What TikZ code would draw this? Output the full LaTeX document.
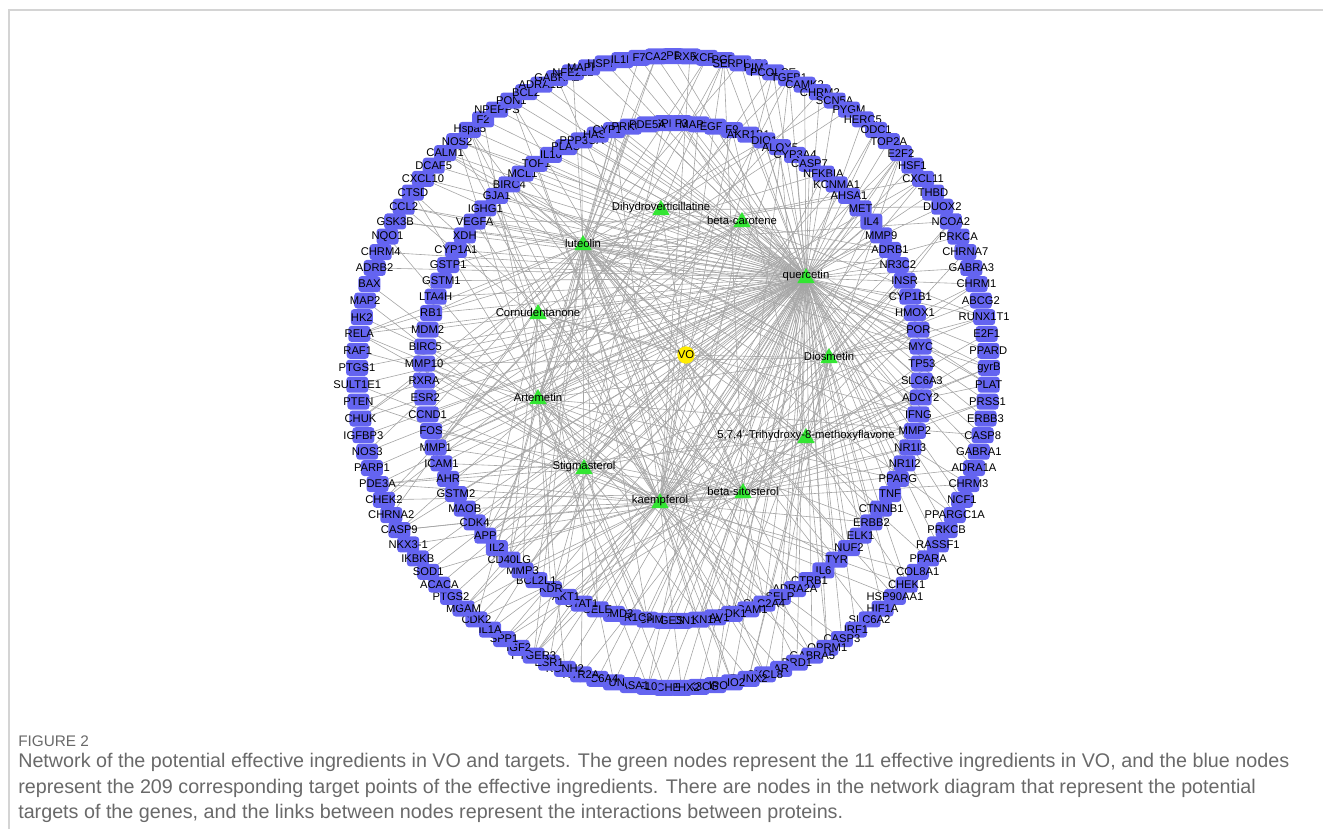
\documentclass[tikz,border=0pt]{standalone}
\usepackage{fontspec}
\setmainfont{Liberation Sans}
\usetikzlibrary{shapes.geometric}
\pgfdeclarelayer{bg}
\pgfsetlayers{bg,main}
\definecolor{tblue}{RGB}{100,100,240}
\definecolor{igreen}{RGB}{51,230,51}
\definecolor{voyellow}{RGB}{255,236,0}
\definecolor{edgegray}{RGB}{165,165,165}
\definecolor{framegray}{RGB}{212,212,212}
\definecolor{capgray}{RGB}{105,105,105}
\newcommand\edgesfor[1]{%
  \gdef\anyhit{0}%
  \foreach \ing/\p in {q/0.68,k/0.30,l/0.28,bs/0.15,st/0.14,di/0.10,ar/0.08,co/0.06,bc/0.07,dh/0.05,th/0.07}{%
    \pgfmathtruncatemacro\hit{rnd<\p}%
    \ifnum\hit=1 \draw[lnk] (#1.center) -- (\ing.center); \gdef\anyhit{1}\fi
  }%
  \ifnum\anyhit=0 \draw[lnk] (#1.center) -- (q.center);\fi
}
\begin{document}
\begin{tikzpicture}[x=0.75pt,y=-0.75pt,
  tnode/.style={rectangle, rounded corners=2.4pt, fill=tblue, draw=none, minimum width=16.5pt, minimum height=12pt, inner sep=0pt},
  tlab/.style={font=\fontsize{8.4}{8.4}\selectfont, text=black, inner sep=0pt},
  ilab/.style={font=\fontsize{8.5}{8.5}\selectfont, text=black, inner sep=0pt, yshift=1.5pt},
  inode/.style={regular polygon, regular polygon sides=3, fill=igreen, draw=none, minimum size=15pt, inner sep=0pt},
  lnk/.style={draw=edgegray, line width=0.45pt},
  capstyle/.style={anchor=base west, inner sep=0pt, text=capgray, font=\fontsize{14.8}{19}\selectfont},
]
\useasboundingbox (0,0) rectangle (1323,829);
\draw[framegray, line width=1.1pt] (9,829) -- (9,10) -- (1323,10);

% outer ring
\foreach \lab [count=\n from 0] in {CPB2,RXRB,XCR1,PGR,SERPINE1,PIM1,PCOLCE,TGFB1,CAMK2,CHRM2,SCN5A,PYGM,HERC5,ODC1,TOP2A,E2F2,HSF1,CXCL11,THBD,DUOX2,NCOA2,PRKCA,CHRNA7,GABRA3,CHRM1,ABCG2,RUNX1T1,E2F1,PPARD,gyrB,PLAT,PRSS1,ERBB3,CASP8,GABRA1,ADRA1A,CHRM3,NCF1,PPARGC1A,PRKCB,RASSF1,PPARA,COL8A1,CHEK1,HSP90AA1,HIF1A,SLC6A2,IRF1,CASP3,OPRM1,GABRA5,DRD1,AR,CXCL8,RUNX2,DIO2,MPO,PIK3CG,EPHX2,ACHE,F10,RASA1,JUN,SLC6A4,HTR2A,KCNH2,ESR1,PTGER3,IGF2,SPP1,IL1A,CDK2,MGAM,PTGS2,ACACA,SOD1,IKBKB,NKX3-1,CASP9,CHRNA2,CHEK2,PDE3A,PARP1,NOS3,IGFBP3,CHUK,PTEN,SULT1E1,PTGS1,RAF1,RELA,HK2,MAP2,BAX,ADRB2,CHRM4,NQO1,GSK3B,CCL2,CTSD,CXCL10,DCAF5,CALM1,NOS2,Hspa5,F2,NPEPPS,PON1,BCL2,ADRA1D,GABRA2,NFE2L2,MAPK14,HSPB1,IL1B,F7,CA2}{
  \pgfmathsetmacro\ang{90-360/117*\n}
  \node[tnode,label={[tlab]center:\lab}] (o\n) at ({673+316*cos(\ang)},{372-316*sin(\ang)}) {};
}
% inner ring
\foreach \lab [count=\n from 0] in {HSPH1,F3,MAPK1,EGFR,F9,AKR1B1,DIO1,ALOX5,CYP3A4,CASP7,NFKBIA,KCNMA1,AHSA1,MET,IL4,MMP9,ADRB1,NR3C2,INSR,CYP1B1,HMOX1,POR,MYC,TP53,SLC6A3,ADCY2,IFNG,MMP2,NR1I3,NR1I2,PPARG,TNF,CTNNB1,ERBB2,ELK1,NUF2,TYR,IL6,CTRB1,ADRA2A,SELP,SLC2A4,VCAM1,PDK1,CAV1,CDKN1A,EDN1,PTGES,ACHM,AKR1C3,PSMD3,SELE,STAT1,AKT1,KDR,BCL2L1,MMP3,CD40LG,IL2,APP,CDK4,MAOB,GSTM2,AHR,ICAM1,MMP1,FOS,CCND1,ESR2,RXRA,MMP10,BIRC5,MDM2,RB1,LTA4H,GSTM1,GSTP1,CYP1A1,XDH,VEGFA,IGHG1,GJA1,BIRC4,MCL1,TOP1,IL10,PLAU,PPP3CA,HAS2,CYP1A2,PRKG1,PDE5A}{
  \pgfmathsetmacro\ang{90-360/92*(\n-0.5)}
  \node[tnode,label={[tlab]center:\lab}] (i\n) at ({673+249*cos(\ang)},{372-249*sin(\ang)}) {};
}
% ingredients
\node[inode,label={[ilab]center:quercetin}] (q) at (806,278) {};
\node[inode,label={[ilab]center:kaempferol}] (k) at (660,503) {};
\node[inode,label={[ilab]center:luteolin}] (l) at (583,245) {};
\node[inode,label={[ilab]center:beta-sitosterol}] (bs) at (743,493) {};
\node[inode,label={[ilab]center:Stigmasterol}] (st) at (584,469) {};
\node[inode,label={[ilab]center:Diosmetin}] (di) at (829,358) {};
\node[inode,label={[ilab]center:Artemetin}] (ar) at (538,399) {};
\node[inode,label={[ilab]center:Cornudentanone}] (co) at (538,314) {};
\node[inode,label={[ilab]center:beta-carotene}] (bc) at (742,222) {};
\node[inode,label={[ilab]center:Dihydroverticillatine}] (dh) at (661,210) {};
\node[inode,label={[ilab]center:5,7,4'-Trihydroxy-8-methoxyflavone}] (th) at (806,438) {};
\node[circle, fill=voyellow, draw=none, minimum size=13pt, inner sep=0pt, label={[ilab,yshift=-1.5pt]center:VO}] (vo) at (686,355) {};

% edges
\begin{pgfonlayer}{bg}
\pgfmathsetseed{20231}
\foreach \ing in {q,k,l,bs,st,di,ar,co,bc,dh,th}{\draw[lnk] (vo.center) -- (\ing.center);}
\foreach \n in {0,...,116}{\edgesfor{o\n}}
\foreach \n in {0,...,91}{\edgesfor{i\n}}
\end{pgfonlayer}

% caption
\node[capstyle, font=\fontsize{11.5}{12}\selectfont] (fig) at (18,746) {FIGURE 2};
\node[capstyle] (cap1) at (18,767) {Network of the potential effective ingredients in VO and targets. The green nodes represent the 11 effective ingredients in VO, and the blue nodes};
\node[capstyle] (cap2) at (18,793) {represent the 209 corresponding target points of the effective ingredients. There are nodes in the network diagram that represent the potential};
\node[capstyle] (cap3) at (18,818) {targets of the genes, and the links between nodes represent the interactions between proteins.};
\end{tikzpicture}
\end{document}
